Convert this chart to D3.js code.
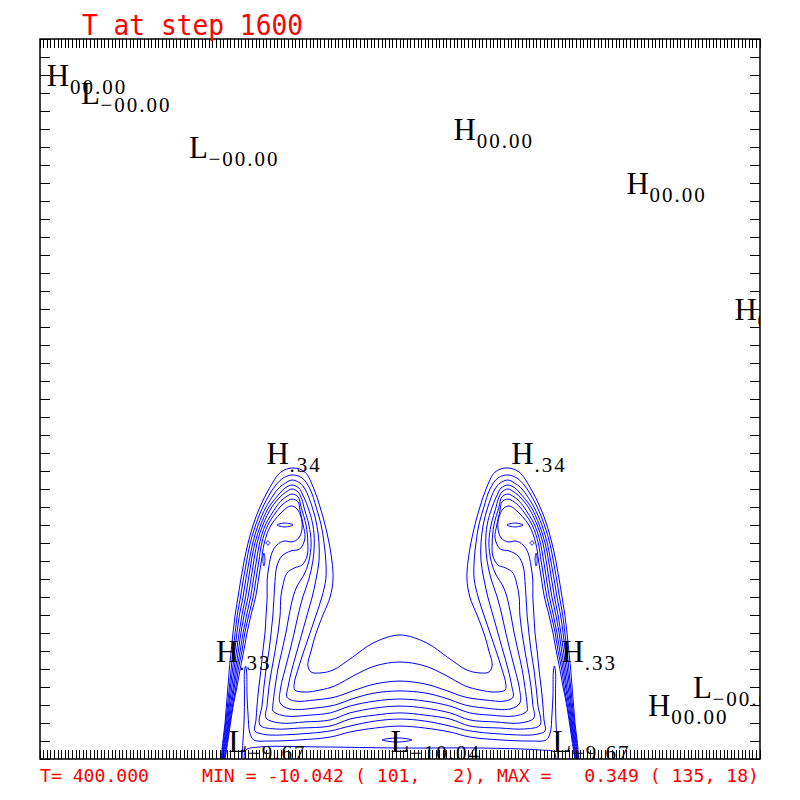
<!DOCTYPE html>
<html>
<head>
<meta charset="utf-8">
<script src="https://cdn.jsdelivr.net/npm/d3@7"></script>
<style>
  html, body { margin: 0; padding: 0; background: #fff; }
  svg { display: block; }
</style>
</head>
<body>
<div id="chart"></div>
<script>
////////////////////////////////// Data //////////////////////////////////
// field grid size (i = 1..201, j = 1..41)
var nx = 201, ny = 41;

var title = "T at step 1600";
var footLeft = "T= 400.000";
var footRight = "MIN = -10.042 ( 101,   2), MAX =   0.349 ( 135, 18)";

// contour lines, as [i, j] grid positions
// (open lines start and end on the bottom boundary)
var c0 = [[51.3,1],[51.8,2],[52.4,3],[52.8,4],[53.2,5],[53.6,6],[54.1,7],[54.6,8],[55.2,9],[56.0,10],[56.8,11],[57.7,12],[58.8,13],[60.2,14],[62.1,15],[64.6,16],[67.9,16.94],[71.3,17.17],[74.6,16.94],[77.1,16],[78.8,15],[80.2,14],[81.3,13],[82.1,12],[82.4,11],[81.6,10],[79.6,9],[77.7,8],[76.3,7],[75.4,6.22],[76.3,5.83],[78.8,5.78],[82.4,5.94],[87.9,6.67],[93.5,7.44],[101,7.89],
  [108.5,7.44],[114.1,6.67],[119.6,5.94],[123.2,5.78],[125.7,5.83],[126.6,6.22],[125.7,7],[124.3,8],[122.4,9],[120.4,10],[119.6,11],[119.9,12],[120.7,13],[121.8,14],[123.2,15],[124.9,16],[127.4,16.94],[130.7,17.17],[134.1,16.94],[137.4,16],[139.9,15],[141.8,14],[143.2,13],[144.3,12],[145.2,11],[146,10],[146.8,9],[147.4,8],[147.9,7],[148.4,6],[148.8,5],[149.2,4],[149.6,3],[150.2,2],[150.7,1]];

var c1 = [[51.4,1],[52.0,2],[52.6,3],[53.1,4],[53.6,5],[54.1,6],[54.6,7],[55.2,8],[55.8,9],[56.7,10],[57.5,11],[58.4,12],[59.4,13],[60.9,14],[62.9,15],[65.7,16],[68.2,16.56],[71.0,16.78],[73.8,16.61],[76.0,16],[77.7,15],[79.1,14],[79.9,13],[80.4,12],[80.4,11],[79.3,10],[77.7,9],[76.0,8],[74.3,7],[72.7,6],[71.6,5.17],[71.8,4.83],[74.6,4.72],[78.8,4.83],[82.9,5.06],[88.5,5.67],[94.1,6.17],[101,6.39],
  [107.9,6.17],[113.5,5.67],[119.1,5.06],[123.2,4.83],[127.4,4.72],[130.2,4.83],[130.4,5.17],[129.3,6],[127.7,7],[126.0,8],[124.3,9],[122.7,10],[121.6,11],[121.6,12],[122.1,13],[122.9,14],[124.3,15],[126.0,16],[128.2,16.61],[131.0,16.78],[133.8,16.56],[136.3,16],[139.1,15],[141.1,14],[142.6,13],[143.6,12],[144.5,11],[145.3,10],[146.2,9],[146.8,8],[147.4,7],[147.9,6],[148.4,5],[148.9,4],[149.4,3],[150.0,2],[150.6,1]];

var c2 = [[51.6,1],[52.2,2],[52.8,3],[53.4,4],[53.9,5],[54.5,6],[55.1,7],[55.7,8],[56.4,9],[57.4,10],[58.2,11],[59.1,12],[60.1,13],[61.6,14],[63.8,15],[67.1,16],[68.8,16.28],[71.0,16.5],[73.2,16.33],[74.6,16],[76.6,15],[77.9,14],[78.5,13],[78.5,12],[77.7,11],[76.6,10],[75.2,9],[73.8,8],[72.4,7],[71.0,6],[69.9,5],[69.6,4.44],[71.8,4.22],[77.4,4.28],[82.9,4.44],[88.5,4.83],[94.1,5.17],[101,5.33],
  [107.9,5.17],[113.5,4.83],[119.1,4.44],[124.6,4.28],[130.2,4.22],[132.4,4.44],[132.1,5],[131.0,6],[129.6,7],[128.2,8],[126.8,9],[125.4,10],[124.3,11],[123.5,12],[123.5,13],[124.1,14],[125.4,15],[127.4,16],[128.8,16.33],[131.0,16.5],[133.2,16.28],[134.9,16],[138.2,15],[140.4,14],[141.9,13],[142.9,12],[143.8,11],[144.6,10],[145.6,9],[146.3,8],[146.9,7],[147.5,6],[148.1,5],[148.6,4],[149.2,3],[149.8,2],[150.4,1]];

var c3 = [[51.8,1],[52.4,2],[53.1,3],[53.6,4],[54.3,5],[54.9,6],[55.6,7],[56.3,8],[57.1,9],[58.1,10],[58.9,11],[59.7,12],[60.7,13],[62.3,14],[64.6,15],[67.7,15.78],[69.1,16.06],[71.0,16.22],[72.9,16.06],[74.0,15.67],[75.4,15],[76.8,14],[77.2,13],[76.8,12],[75.7,11],[74.0,10],[72.7,9],[71.6,8],[70.4,7],[69.1,6],[67.9,5],[67.7,4.11],[70.4,3.78],[77.4,3.83],[82.9,4],[88.5,4.39],[94.1,4.67],[101,4.78],
  [107.9,4.67],[113.5,4.39],[119.1,4],[124.6,3.83],[131.6,3.78],[134.3,4.11],[134.1,5],[132.9,6],[131.6,7],[130.4,8],[129.3,9],[128.0,10],[126.3,11],[125.2,12],[124.8,13],[125.2,14],[126.6,15],[128.0,15.67],[129.1,16.06],[131.0,16.22],[132.9,16.06],[134.3,15.78],[137.4,15],[139.7,14],[141.3,13],[142.3,12],[143.1,11],[143.9,10],[144.9,9],[145.7,8],[146.4,7],[147.1,6],[147.7,5],[148.4,4],[148.9,3],[149.6,2],[150.2,1]];

var c4 = [[51.9,1],[52.6,2],[53.3,3],[53.9,4],[54.7,5],[55.3,6],[56.1,7],[56.8,8],[57.7,9],[58.8,10],[59.6,11],[60.4,12],[61.3,13],[62.9,14],[65.4,15],[67.7,15.56],[69.3,15.83],[71.0,16],[72.7,15.83],[73.8,15.39],[74.3,15],[75.7,14],[76.3,13],[75.7,12],[74.3,11.22],[72.4,10.61],[71.3,10],[70.2,9],[69.3,8],[68.2,7],[67.1,6],[66.3,5],[65.7,4],[65.7,3.67],[69.1,3.39],[76.0,3.44],[81.6,3.56],[87.1,3.94],[94.1,4.22],[101,4.33],
  [107.9,4.22],[114.9,3.94],[120.4,3.56],[126.0,3.44],[132.9,3.39],[136.3,3.67],[136.3,4],[135.7,5],[134.9,6],[133.8,7],[132.7,8],[131.8,9],[130.7,10],[129.6,10.61],[127.7,11.22],[126.3,12],[125.7,13],[126.3,14],[127.7,15],[128.2,15.39],[129.3,15.83],[131.0,16],[132.7,15.83],[134.3,15.56],[136.6,15],[139.1,14],[140.7,13],[141.6,12],[142.4,11],[143.2,10],[144.3,9],[145.2,8],[145.9,7],[146.7,6],[147.3,5],[148.1,4],[148.7,3],[149.4,2],[150.1,1]];

var c5 = [[52.1,1],[52.8,2],[53.5,3],[54.2,4],[55.0,5],[55.7,6],[56.6,7],[57.4,8],[58.4,9],[59.5,10],[60.3,11],[61.1,12],[62.0,13],[63.6,14],[66.6,15],[67.9,15.33],[69.3,15.56],[71.0,15.72],[72.7,15.56],[73.5,15],[74.9,14],[75.4,13],[75.2,12.28],[73.8,11.78],[71.6,11.61],[69.6,11.33],[68.5,10.67],[67.9,10],[67.7,9],[67.1,8],[66.3,7],[65.4,6],[64.6,5],[64.1,4],[63.8,3.28],[67.7,3],[74.6,3.06],[81.6,3.17],[87.1,3.56],[94.1,3.83],[101,3.94],
  [107.9,3.83],[114.9,3.56],[120.4,3.17],[127.4,3.06],[134.3,3],[138.2,3.28],[137.9,4],[137.4,5],[136.6,6],[135.7,7],[134.9,8],[134.3,9],[134.1,10],[133.5,10.67],[132.4,11.33],[130.4,11.61],[128.2,11.78],[126.8,12.28],[126.6,13],[127.1,14],[128.5,15],[129.3,15.56],[131.0,15.72],[132.7,15.56],[134.1,15.33],[135.4,15],[138.4,14],[140.0,13],[140.9,12],[141.7,11],[142.5,10],[143.6,9],[144.6,8],[145.4,7],[146.3,6],[147.0,5],[147.8,4],[148.5,3],[149.2,2],[149.9,1]];

var c6 = [[52.3,1],[53.0,2],[53.7,3],[54.5,4],[55.4,5],[56.1,6],[57.1,7],[57.9,8],[59.0,9],[60.2,10],[61.0,11],[61.8,12],[62.6,13],[64.3,14],[67.7,15],[69.3,15.28],[71.0,15.44],[72.7,15.28],[73.2,14.83],[74.1,14],[74.6,13.28],[73.2,12.67],[70.7,12.56],[68.2,12.28],[66.8,11.72],[66.3,10.94],[66.0,10],[65.7,9],[65.2,8],[64.6,7],[63.8,6],[63.2,5],[62.7,4],[62.1,2.89],[66.3,2.67],[73.2,2.72],[81.6,2.83],[87.1,3.22],[94.1,3.44],[101,3.56],
  [107.9,3.44],[114.9,3.22],[120.4,2.83],[128.8,2.72],[135.7,2.67],[139.9,2.89],[139.3,4],[138.8,5],[138.2,6],[137.4,7],[136.8,8],[136.3,9],[136.0,10],[135.7,10.94],[135.2,11.72],[133.8,12.28],[131.3,12.56],[128.8,12.67],[127.4,13.28],[127.9,14],[128.8,14.83],[129.3,15.28],[131.0,15.44],[132.7,15.28],[134.3,15],[137.7,14],[139.4,13],[140.2,12],[141.0,11],[141.8,10],[143.0,9],[144.1,8],[144.9,7],[145.9,6],[146.6,5],[147.5,4],[148.3,3],[149.0,2],[149.7,1]];

var c7 = [[52.4,1],[53.2,2],[53.9,3],[54.7,4],[55.7,5],[56.6,6],[57.6,7],[58.5,8],[59.6,9],[60.9,10],[61.7,11],[62.5,12],[63.3,13],[65.2,14],[68.8,14.83],[70.7,15.06],[72.4,14.89],[73.5,14.44],[73.8,13.83],[72.9,13.28],[71.0,13.06],[68.8,13.11],[66.8,12.89],[65.4,12.44],[64.6,11.72],[64.1,10.94],[64.1,10],[63.8,9],[63.5,8],[62.9,7],[62.4,6],[61.8,5],[61.3,4],[61.0,3.17],[60.7,2.56],[62.7,2.39],[64.9,2.33],[73.2,2.39],[81.6,2.56],[87.1,2.83],[94.1,3.11],[101,3.22],
  [107.9,3.11],[114.9,2.83],[120.4,2.56],[128.8,2.39],[137.1,2.33],[139.3,2.39],[141.3,2.56],[141.0,3.17],[140.7,4],[140.2,5],[139.6,6],[139.1,7],[138.5,8],[138.2,9],[137.9,10],[137.9,10.94],[137.4,11.72],[136.6,12.44],[135.2,12.89],[133.2,13.11],[131.0,13.06],[129.1,13.28],[128.2,13.83],[128.5,14.44],[129.6,14.89],[131.3,15.06],[133.2,14.83],[136.8,14],[138.7,13],[139.5,12],[140.3,11],[141.1,10],[142.4,9],[143.5,8],[144.4,7],[145.4,6],[146.3,5],[147.3,4],[148.1,3],[148.8,2],[149.6,1]];

var c8 = [[57.1,1],[57.4,2.06],[57.7,3.17],[57.8,4.56],[57.8,5.83],[58.1,6.17],[58.4,5.83],[58.5,4.56],[58.8,3.44],[59.3,2.44],[60.4,2.06],[64.9,2],[73.2,2.06],[81.6,2.22],[87.1,2.5],[94.1,2.72],[101,2.83],
  [107.9,2.72],[114.9,2.5],[120.4,2.22],[128.8,2.06],[137.1,2],[141.6,2.06],[142.7,2.44],[143.2,3.44],[143.5,4.56],[143.6,5.83],[143.9,6.17],[144.2,5.83],[144.2,4.56],[144.3,3.17],[144.6,2.06],[144.9,1]];

var bottomLine = [[57.7,1],[58.2,1.5],[62.1,1.67],[78.8,1.67],[101,1.61],[123.2,1.61],[139.9,1.5],[143.8,1.39],[144.3,1]];

// small closed contours
var dashL = [[66.8,14],[69.1,14.11],[71.3,14],[69.1,13.89]];
var dashR = [[130.7,14],[132.9,14.11],[135.2,14],[132.9,13.89]];
var loopL = [[63.8,13],[64.3,13.11],[64.9,13],[64.3,12.89]];
var loopR = [[137.1,13],[137.7,13.11],[138.2,13],[137.7,12.89]];
var spikeL = [[63.2,12.44],[63.5,12.06],[63.2,11.72],[62.9,12.06]];
var spikeR = [[138.8,12.44],[138.5,12.06],[138.8,11.72],[139.1,12.06]];
var minLoop = [[96.0,2.06],[100.2,2.17],[104.3,2.06],[100.2,1.94]];

// high / low labels
var hiLoKind  = ["H", "L", "L", "H", "H", "H", "H", "H", "H", "H", "L", "L", "L", "H", "L"];
var hiLoI     = [6, 15, 45, 119, 167, 197, 67, 135, 53, 149, 56, 101, 146, 173, 185];
var hiLoJ     = [39, 38, 35, 36, 33, 26, 18, 18, 7, 7, 2, 2, 2, 4, 5];
var hiLoValue = ["00.00", "\u221200.00", "\u221200.00", "00.00", "00.00", "00.00", ".34", ".34", ".33", ".33",
                 "\u22129.67", "\u221210.04", "\u22129.67", "00.00", "\u221200.00"];

////////////////////////////////// D3 //////////////////////////////////
function drawChart() {

  var width = 800;
  var height = 800;

  var svg = d3.select('#chart')
    .append('svg')
    .attr('width', width)
    .attr('height', height);

  var x = d3.scaleLinear().domain([1, nx]).range([40, 760]);
  var y = d3.scaleLinear().domain([1, ny]).range([759, 39]);

  svg.append('clipPath')
    .attr('id', 'frame')
    .append('rect')
    .attr('x', x(1))
    .attr('y', y(ny))
    .attr('width', x(nx) - x(1))
    .attr('height', y(1) - y(ny));

  var openLine = d3.line()
    .x(function(d) { return x(d[0]); })
    .y(function(d) { return y(d[1]); })
    .curve(d3.curveCatmullRom.alpha(0.5));

  var closedLine = d3.line()
    .x(function(d) { return x(d[0]); })
    .y(function(d) { return y(d[1]); })
    .curve(d3.curveCatmullRomClosed.alpha(0.5));

  var plot = svg.append('g').attr('clip-path', 'url(#frame)');

  // contours
  plot.selectAll('.open')
    .data([c0, c1, c2, c3, c4, c5, c6, c7, c8, bottomLine])
    .enter()
    .append('path')
    .attr('class', 'open')
    .attr('d', openLine)
    .attr('fill', 'none')
    .attr('stroke', '#0000ff')
    .attr('stroke-width', 1);

  plot.selectAll('.closed')
    .data([dashL, dashR, loopL, loopR, spikeL, spikeR, minLoop])
    .enter()
    .append('path')
    .attr('class', 'closed')
    .attr('d', closedLine)
    .attr('fill', 'none')
    .attr('stroke', '#0000ff')
    .attr('stroke-width', 1);

  // frame + grid ticks
  var gridI = d3.range(1, nx + 1);
  var gridJ = d3.range(1, ny + 1);
  var ticks = svg.append('g')
    .attr('stroke', '#000')
    .attr('stroke-width', 1)
    .attr('shape-rendering', 'crispEdges');

  ticks.selectAll('.tt').data(gridI).enter().append('line')
    .attr('x1', function(d) { return x(d); }).attr('x2', function(d) { return x(d); })
    .attr('y1', y(ny)).attr('y2', y(ny) + 9);
  ticks.selectAll('.tb').data(gridI).enter().append('line')
    .attr('x1', function(d) { return x(d); }).attr('x2', function(d) { return x(d); })
    .attr('y1', y(1)).attr('y2', y(1) - 9);
  ticks.selectAll('.tl').data(gridJ).enter().append('line')
    .attr('y1', function(d) { return y(d); }).attr('y2', function(d) { return y(d); })
    .attr('x1', x(1)).attr('x2', x(1) + 10);
  ticks.selectAll('.tr').data(gridJ).enter().append('line')
    .attr('y1', function(d) { return y(d); }).attr('y2', function(d) { return y(d); })
    .attr('x1', x(nx)).attr('x2', x(nx) - 10);

  svg.append('rect')
    .attr('x', x(1)).attr('y', y(ny))
    .attr('width', x(nx) - x(1)).attr('height', y(1) - y(ny))
    .attr('fill', 'none')
    .attr('stroke', '#000')
    .attr('stroke-width', 1.5);

  // H / L labels
  var labels = svg.append('g')
    .attr('clip-path', 'url(#frame)')
    .attr('font-family', '"Liberation Serif", "Times New Roman", serif')
    .attr('fill', '#000');

  var idx = d3.range(hiLoKind.length);

  labels.selectAll('.hl').data(idx).enter().append('text')
    .attr('x', function(n) { return x(hiLoI[n]); })
    .attr('y', function(n) { return y(hiLoJ[n]) + 11; })
    .attr('text-anchor', 'middle')
    .attr('font-size', 31)
    .text(function(n) { return hiLoKind[n]; });

  labels.selectAll('.sub').data(idx).enter().append('text')
    .attr('x', function(n) { return x(hiLoI[n]) + (hiLoKind[n] === 'H' ? 12 : 10); })
    .attr('y', function(n) { return y(hiLoJ[n]) + 19; })
    .attr('font-size', 21)
    .attr('letter-spacing', 2)
    .text(function(n) { return hiLoValue[n]; });

  // red texts (fixed width, keep the runs of spaces)
  var keepSpaces = function(s) { return s.replace(/ /g, '\u00a0'); };

  var red = svg.append('g')
    .attr('fill', '#ff0000')
    .attr('font-family', '"DejaVu Sans Mono", "Liberation Mono", monospace');

  red.append('text')
    .attr('x', 82).attr('y', 34.5)
    .attr('font-size', 28)
    .attr('textLength', 221)
    .attr('lengthAdjust', 'spacingAndGlyphs')
    .text(keepSpaces(title));

  red.append('text')
    .attr('x', 40).attr('y', 782)
    .attr('font-size', 18)
    .attr('textLength', 109)
    .attr('lengthAdjust', 'spacingAndGlyphs')
    .text(keepSpaces(footLeft));

  red.append('text')
    .attr('x', 202).attr('y', 782)
    .attr('font-size', 18)
    .attr('textLength', 557)
    .attr('lengthAdjust', 'spacingAndGlyphs')
    .text(keepSpaces(footRight));
}

drawChart();
</script>
</body>
</html>
